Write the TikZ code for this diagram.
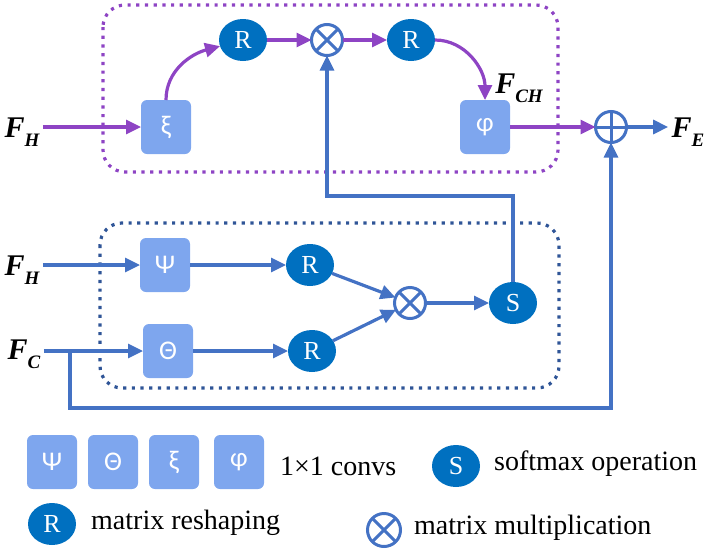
\documentclass[tikz,border=0pt]{standalone}
\usepackage{fontspec}
\setmainfont{Liberation Serif}
\newfontfamily\grkfont{Carlito}
\usepackage{tikz}
\usepackage{tkz-graph}
\usetikzlibrary{arrows.meta,shapes.geometric}

\definecolor{attnpurple}{RGB}{142,68,196}
\definecolor{attnblue}{RGB}{68,114,196}
\definecolor{attnnavy}{RGB}{47,85,151}
\definecolor{convfill}{RGB}{126,166,238}
\definecolor{opblue}{RGB}{0,112,192}

\newcommand{\feat}[1]{{\fontsize{30}{30}\selectfont\bfseries\itshape F\raisebox{-0.3em}{\fontsize{19}{19}\selectfont #1}}}

\tikzset{
	convbox/.style={rectangle,rounded corners=6pt,fill=convfill,draw=none,minimum width=50pt,minimum height=54pt,inner sep=0pt,text=white,font=\fontsize{27}{27}\selectfont\grkfont},
	opnode/.style={ellipse,fill=opblue,draw=none,minimum width=48pt,minimum height=42pt,inner sep=0pt,text=white,font=\fontsize{26}{26}\selectfont},
	mulnode/.style={circle,draw=attnblue,fill=white,line width=3pt,minimum size=31pt,inner sep=0pt,
		path picture={\draw[attnblue,line width=3pt] (path picture bounding box.north west) -- (path picture bounding box.south east) (path picture bounding box.north east) -- (path picture bounding box.south west);}},
	addnode/.style={circle,draw=attnblue,fill=white,line width=3pt,minimum size=31pt,inner sep=0pt,
		path picture={\draw[attnblue,line width=3pt] (path picture bounding box.north) -- (path picture bounding box.south) (path picture bounding box.west) -- (path picture bounding box.east);}},
	purplearrow/.style={draw=attnpurple,line width=3.2pt,-{Triangle[length=15pt,width=14pt]}},
	bluearrow/.style={draw=attnblue,line width=3.2pt,-{Triangle[length=15pt,width=14pt]}},
	purpledots/.style={draw=attnpurple,line width=3.2pt,dash pattern=on 3.2pt off 5.5pt,rounded corners=22pt},
	navydots/.style={draw=attnnavy,line width=3.2pt,dash pattern=on 3.2pt off 5.5pt,rounded corners=22pt},
	legendtext/.style={anchor=west,inner sep=0pt}
}

\begin{document}
\begin{tikzpicture}[x=1pt,y=-1pt,font=\fontsize{28}{32}\selectfont]
	\useasboundingbox (0,0) rectangle (706,552);
	\GraphInit[vstyle=Normal]
	\draw[purpledots] (103,5) rectangle (558,172);
	\draw[navydots] (100,223) rectangle (559,388);
	\tikzset{VertexStyle/.style={convbox}}
	\Vertex[x=166,y=127,L={ξ}]{xi}
	\Vertex[x=485,y=127,L={φ}]{phi}
	\Vertex[x=165,y=265,L={Ψ}]{psi}
	\Vertex[x=168,y=351,L={Θ}]{theta}
	\tikzset{VertexStyle/.style={opnode}}
	\Vertex[x=243,y=40,L={R}]{rtop}
	\Vertex[x=411,y=40,L={R}]{rback}
	\Vertex[x=310,y=265,L={R}]{rpsi}
	\Vertex[x=312,y=351,L={R}]{rtheta}
	\Vertex[x=513,y=303,L={S}]{soft}
	\tikzset{VertexStyle/.style={mulnode}}
	\Vertex[x=327,y=40,NoLabel]{multop}
	\Vertex[x=410,y=303,NoLabel]{mulbot}
	\tikzset{VertexStyle/.style={addnode}}
	\Vertex[x=611,y=127,NoLabel]{plus}
	\node (fhtop) at (22,132) {\feat{H}};
	\node (fhbot) at (22,270) {\feat{H}};
	\node (fc) at (24,354) {\feat{C}};
	\node (fch) at (519,88) {\feat{CH}};
	\node (fe) at (688,132) {\feat{E}};
	\coordinate (split) at (70,351);
	\coordinate (low) at (70,408);
	\coordinate (turn) at (513,196);
	\SetUpEdge[lw=3.2pt,color=attnpurple]
	\draw[purplearrow] (fhtop.east |- xi) -- (xi);
	\tikzset{EdgeStyle/.style={purplearrow,out=90,in=195}}
	\Edge[style={line width=3.2pt}](xi)(rtop)
	\tikzset{EdgeStyle/.style={purplearrow}}
	\Edge[style={line width=3.2pt}](rtop)(multop)
	\Edge[style={line width=3.2pt}](multop)(rback)
	\tikzset{EdgeStyle/.style={purplearrow,out=0,in=90}}
	\Edge[style={line width=3.2pt}](rback)(phi)
	\draw[purplearrow] (phi) -- (plus);
	\SetUpEdge[lw=3.2pt,color=attnblue]
	\tikzset{EdgeStyle/.style={bluearrow}}
	\draw[bluearrow] (plus) -- (fe.west |- plus);
	\draw[bluearrow] (fhbot.east |- psi) -- (psi);
	\draw[bluearrow] (fc.east |- theta) -- (theta);
	\Edge[style={line width=3.2pt}](psi)(rpsi)
	\Edge[style={line width=3.2pt}](theta)(rtheta)
	\Edge[style={line width=3.2pt}](rpsi)(mulbot)
	\Edge[style={line width=3.2pt}](rtheta)(mulbot)
	\Edge[style={line width=3.2pt}](mulbot)(soft)
	\draw[bluearrow] (soft) -- (turn) -| (multop);
	\draw[bluearrow] (split) -- (low) -| (plus);
	\tikzset{VertexStyle/.style={convbox}}
	\Vertex[x=52,y=462,L={Ψ}]{lpsi}
	\Vertex[x=113,y=462,L={Θ}]{ltheta}
	\Vertex[x=174,y=462,L={ξ}]{lxi}
	\Vertex[x=239,y=462,L={φ}]{lphi}
	\tikzset{VertexStyle/.style={opnode}}
	\Vertex[x=456,y=466,L={S}]{lsoft}
	\Vertex[x=52,y=524,L={R}]{lr}
	\tikzset{VertexStyle/.style={mulnode,minimum size=33pt}}
	\Vertex[x=384,y=530,NoLabel]{lmul}
	\node[legendtext] (tconv) at (280,466) {1×1 convs};
	\node[legendtext] (tsoft) at (494,464) {softmax operation};
	\node[legendtext] (tres) at (91,523) {matrix reshaping};
	\node[legendtext] (tmul) at (414,528) {matrix multiplication};
\end{tikzpicture}
\end{document}
